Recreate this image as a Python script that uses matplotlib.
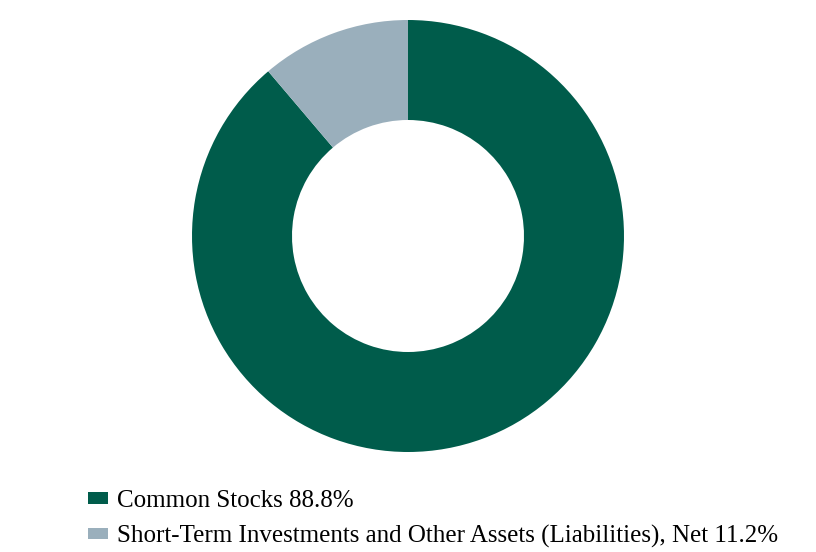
import matplotlib
matplotlib.use("Agg")
import matplotlib.pyplot as plt
from matplotlib.patches import Patch

categories = ["Common Stocks", "Short-Term Investments and Other Assets (Liabilities), Net"]
values = [88.8, 11.2]
colors = ["#005C4B", "#9AAFBC"]

W, H = 816, 552
fig = plt.figure(figsize=(W / 100, H / 100), dpi=100)
cx, cy, r = 408, 236, 216
ax = fig.add_axes([(cx - r) / W, (H - cy - r) / H, 2 * r / W, 2 * r / H])
ax.pie(values, colors=colors, startangle=90, counterclock=False, radius=1,
       wedgeprops=dict(width=100 / 216, linewidth=0))
ax.set_xlim(-1, 1)
ax.set_ylim(-1, 1)
ax.set_aspect("equal")
ax.axis("off")

fs = 18
handles = [Patch(facecolor=c, edgecolor="none") for c in colors]
labels = [f"{c} {v}%" for c, v in zip(categories, values)]
fig.legend(handles, labels, loc="upper left", bbox_to_anchor=(88 / W, 1 - 490 / H),
           frameon=False, prop={"family": "Liberation Serif", "size": fs},
           handlelength=0.8, handleheight=0.32, handletextpad=0.36, labelspacing=0.5,
           borderaxespad=0, borderpad=0)
fig.savefig("out.png", dpi=100)
